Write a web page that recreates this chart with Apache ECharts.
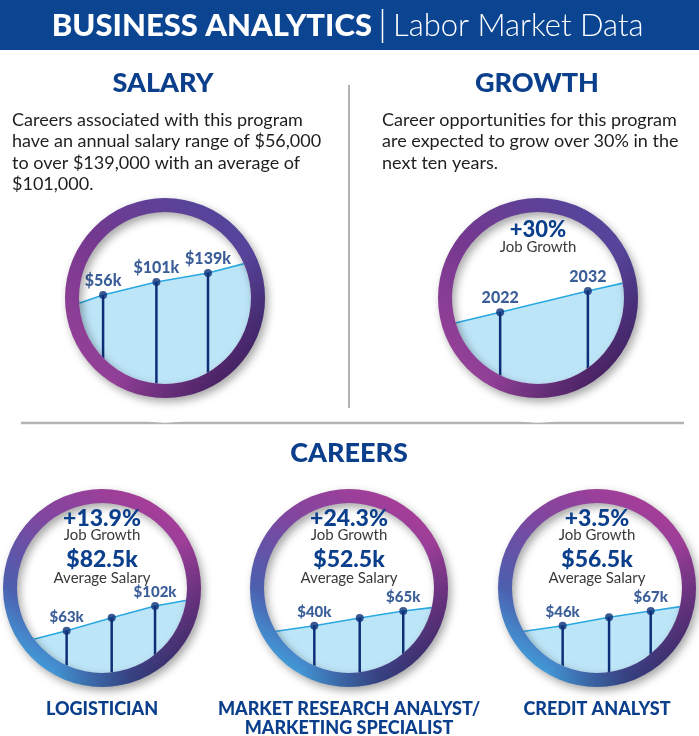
<!DOCTYPE html>
<html>
<head>
<meta charset="utf-8">
<script src="https://cdn.jsdelivr.net/npm/echarts@6/dist/echarts.min.js"></script>
<style>
html,body{margin:0;padding:0;background:#fff;}
#chart{width:699px;height:736px;}
</style>
</head>
<body>
<div id="chart"></div>
<script>
// ---------- DATA ----------
const headerBold = 'BUSINESS ANALYTICS';
const headerLight = 'Labor Market Data';
const salaryTitle = 'SALARY';
const salaryText = ['Careers associated with this program', 'have an annual salary range of $56,000', 'to over $139,000 with an average of', '$101,000.'];
const growthTitle = 'GROWTH';
const growthText = ['Career opportunities for this program', 'are expected to grow over 30% in the', 'next ten years.'];
const careersTitle = 'CAREERS';

// decorative trend lines (x: % across circle, y: % of circle height from bottom)
const salaryLineX = [0, 14, 45, 75, 100];
const salaryLineY = [47, 51.7, 59.3, 64.5, 71];
const salaryMarkers = [1, 2, 3];
const salaryLabels = ['$56k', '$101k', '$139k'];

const growthLineX = [0, 28, 79, 100];
const growthLineY = [35, 41.7, 54.1, 58.8];
const growthMarkers = [1, 2];
const growthLabels = ['2022', '2032'];
const growthValue = '+30%';
const growthCaption = 'Job Growth';

const careerNames = [['LOGISTICIAN'], ['MARKET RESEARCH ANALYST/', 'MARKETING SPECIALIST'], ['CREDIT ANALYST']];
const careerGrowth = ['+13.9%', '+24.3%', '+3.5%'];
const careerAvg = ['$82.5k', '$52.5k', '$56.5k'];
const careerLineX = [[0, 29.2, 55.7, 81.2, 100], [0, 29.6, 56.3, 81.9, 100], [0, 29.8, 57.1, 81.6, 100]];
const careerLineY = [[17.4, 24.9, 32.5, 39.4, 42.8], [23.5, 27.8, 32.4, 36.5, 38.6], [23.5, 27.8, 32.8, 36.5, 39.2]];
const careerMarkers = [1, 2, 3];
const careerLabels = [['$63k', '', '$102k'], ['$40k', '', '$65k'], ['$46k', '', '$67k']];

// ---------- LAYOUT ----------
const NAVY = '#0b3f8c';
const FONT = 'Lato, "Open Sans", sans-serif';
const circles = [
  {cx: 165, cy: 298, ri: 86, ro: 100, kind: 'top'},
  {cx: 538, cy: 298, ri: 86, ro: 100, kind: 'top'},
  {cx: 102, cy: 588, ri: 85, ro: 99, kind: 'bottom'},
  {cx: 349, cy: 588, ri: 85, ro: 99, kind: 'bottom'},
  {cx: 597, cy: 588, ri: 85, ro: 99, kind: 'bottom'}
];
const charts = [
  {x: salaryLineX, y: salaryLineY, m: salaryMarkers, l: salaryLabels, fs: 16},
  {x: growthLineX, y: growthLineY, m: growthMarkers, l: growthLabels, fs: 16},
  {x: careerLineX[0], y: careerLineY[0], m: careerMarkers, l: careerLabels[0], fs: 15},
  {x: careerLineX[1], y: careerLineY[1], m: careerMarkers, l: careerLabels[1], fs: 15},
  {x: careerLineX[2], y: careerLineY[2], m: careerMarkers, l: careerLabels[2], fs: 15}
];

const grids = [], xAxes = [], yAxes = [], series = [];
charts.forEach((c, i) => {
  const g = circles[i];
  grids.push({left: g.cx - g.ri, top: g.cy - g.ri, width: 2 * g.ri, height: 2 * g.ri, containLabel: false});
  xAxes.push({type: 'value', gridIndex: i, min: 0, max: 100, show: false});
  yAxes.push({type: 'value', gridIndex: i, min: 0, max: 100, show: false});
  const line = c.x.map((v, k) => [v, c.y[k]]);
  const pts = c.m.map((idx, k) => ({value: [c.x[idx], c.y[idx]], lab: c.l[k]}));
  series.push({
    type: 'line', xAxisIndex: i, yAxisIndex: i, data: line, symbol: 'none', z: 1,
    lineStyle: {color: '#2aa8e0', width: 1.6},
    areaStyle: {color: '#bde5f8', opacity: 1, origin: 'start'},
    silent: true, animation: false
  });
  series.push({
    type: 'bar', xAxisIndex: i, yAxisIndex: i, data: pts.map(p => p.value), barWidth: 2.5, z: 2,
    itemStyle: {color: '#0d2f78'}, silent: true, animation: false
  });
  series.push({
    type: 'scatter', xAxisIndex: i, yAxisIndex: i, symbolSize: 8, z: 3,
    data: pts.map(p => ({value: p.value, label: {formatter: p.lab}})),
    itemStyle: {color: '#0d2f78'},
    label: {show: true, position: 'top', distance: 2, color: '#0a367f', fontWeight: 900, fontSize: c.fs, fontFamily: FONT},
    silent: true, animation: false
  });
});

// ---------- GRAPHICS ----------
const G = [];
function txt(x, y, text, size, weight, color, align, extra) {
  G.push(Object.assign({
    type: 'text', z: 80, silent: true,
    style: {x: x, y: y, text: text, fontSize: size, fontWeight: weight, fontFamily: FONT, fill: color,
      align: align || 'center', verticalAlign: 'middle'}
  }, extra || {}));
}
// header
G.push({type: 'rect', z: 5, shape: {x: 0, y: 0, width: 699, height: 50}, style: {fill: '#0b4592'}});
txt(372, 26, headerBold, 31, 900, '#ffffff', 'right');
G.push({type: 'line', z: 80, shape: {x1: 382.5, y1: 9, x2: 382.5, y2: 43}, style: {stroke: '#ffffff', lineWidth: 1.5}});
txt(393, 26, headerLight, 31, 300, '#ffffff', 'left');

// titles
txt(163, 83, salaryTitle, 27, 900, NAVY);
txt(537, 83, growthTitle, 27, 900, NAVY);
txt(349, 453, careersTitle, 27, 900, NAVY);

// paragraphs
salaryText.forEach((t, k) => txt(12, 120 + k * 21.5, t, 18, 'normal', '#1e1e1e', 'left'));
growthText.forEach((t, k) => txt(382, 120 + k * 21.5, t, 18, 'normal', '#1e1e1e', 'left'));

// dividers
G.push({type: 'line', z: 5, shape: {x1: 349, y1: 85, x2: 349, y2: 408}, style: {stroke: '#b3b3b3', lineWidth: 2}});
G.push({type: 'line', z: 5, shape: {x1: 21, y1: 423, x2: 684, y2: 423}, style: {stroke: '#b3b3b3', lineWidth: 2.5}});

// circle masks and rings
circles.forEach(g => {
  G.push({type: 'ring', z: 40, silent: true, shape: {cx: g.cx, cy: g.cy, r0: g.ri, r: g.ri * 1.45}, style: {fill: '#ffffff'}});
  const fill = g.kind === 'top'
    ? new echarts.graphic.LinearGradient(0, 1, 1, 0, [
        {offset: 0, color: '#a2449c'}, {offset: 0.45, color: '#76388f'}, {offset: 1, color: '#474aa0'}])
    : new echarts.graphic.LinearGradient(0.85, 0, 0.15, 1, [
        {offset: 0, color: '#b03a96'}, {offset: 0.4, color: '#80469f'}, {offset: 0.72, color: '#4c5fae'}, {offset: 1, color: '#3db4ea'}]);
  G.push({type: 'ring', z: 50, silent: true, shape: {cx: g.cx, cy: g.cy, r0: g.ri, r: g.ro},
    style: {fill: fill, shadowBlur: 8, shadowColor: 'rgba(0,0,0,0.35)', shadowOffsetX: 3, shadowOffsetY: 4}});
  G.push({type: 'ring', z: 51, silent: true, shape: {cx: g.cx, cy: g.cy, r0: g.ri, r: g.ro},
    style: {fill: new echarts.graphic.LinearGradient(0.2, 0.2, 0.9, 0.9, [
      {offset: 0, color: 'rgba(20,10,50,0)'}, {offset: 0.55, color: 'rgba(20,10,50,0)'}, {offset: 1, color: 'rgba(20,10,50,0.55)'}])}});
});

// growth circle text
txt(538, 230, growthValue, 22, 900, NAVY);
txt(538, 247, growthCaption, 15, 'normal', '#3a3a3a');

// career texts
[102, 349, 597].forEach((cx, i) => {
  txt(cx, 519, careerGrowth[i], 23, 900, NAVY);
  txt(cx, 535, 'Job Growth', 15, 'normal', '#3a3a3a');
  txt(cx, 560, careerAvg[i], 23, 900, NAVY);
  txt(cx, 578, 'Average Salary', 15, 'normal', '#3a3a3a');
  careerNames[i].forEach((n, k) => txt(cx, 709 + k * 19, n, 18, 900, NAVY));
});

const chart = echarts.init(document.getElementById('chart'), null, {renderer: 'canvas'});
chart.setOption({
  animation: false,
  backgroundColor: '#ffffff',
  grid: grids, xAxis: xAxes, yAxis: yAxes, series: series,
  graphic: {elements: G}
});
</script>
</body>
</html>
